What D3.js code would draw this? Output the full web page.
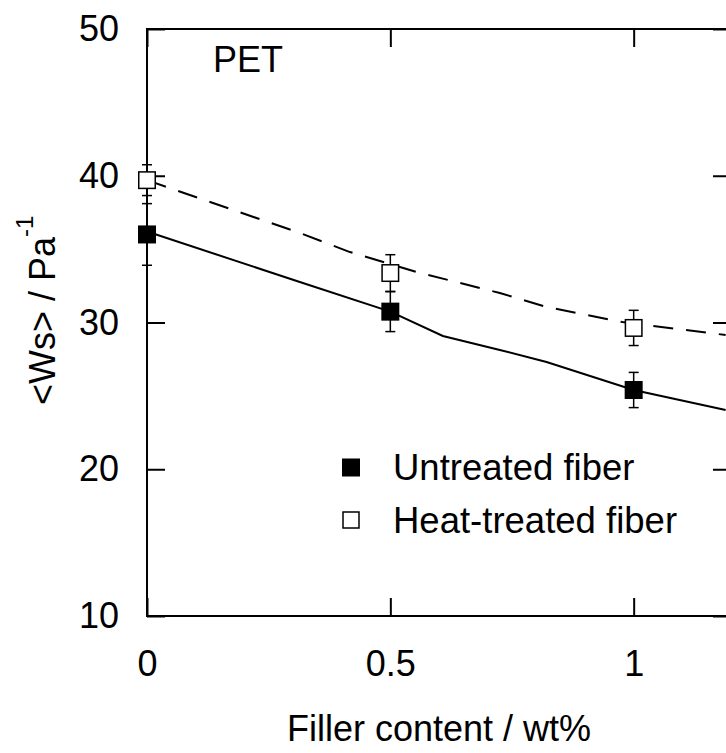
<!DOCTYPE html>
<html>
<head>
<meta charset="utf-8">
<script src="https://cdn.jsdelivr.net/npm/d3@7"></script>
<style>
  body { margin: 0; background: #fff; }
  svg { display: block; font-family: "Liberation Sans", Arial, sans-serif; }
</style>
</head>
<body>
<script>
// Ws vs filler content, PET

const width = 726, height = 753;
const margin = {top: 29, left: 147, right: 731, bottom: 616}; // plot frame (right side runs off the page)

// measured points
const filler = [0, 0.5, 1];
const untreated = [36.0, 30.74, 25.4];
const untreatedErr = [2.1, 1.36, 1.2];
const heatTreated = [39.7, 33.37, 29.63];
const heatTreatedErr = [1.05, 1.25, 1.2];

// fitted curves
const fitX = [0, 0.314, 0.5, 0.608, 0.725, 0.821, 1.0, 1.189];
const fitUntreated = [36.2, 32.76, 30.74, 29.08, 28.13, 27.31, 25.40, 24.04];
const fitHeatX = [0, 0.314, 0.417, 0.554, 0.725, 0.821, 0.977, 1.189];
const fitHeat = [39.7, 36.1, 34.8, 33.44, 32.01, 31.06, 30.03, 29.15];

const xTicks = [0, 0.5, 1];
const yTicks = [10, 20, 30, 40, 50];

const svg = d3.select("body").append("svg")
    .attr("width", width)
    .attr("height", height);

const x = d3.scaleLinear().domain([0, 1.2]).range([margin.left, margin.right]);
const y = d3.scaleLinear().domain([10, 50]).range([margin.bottom, margin.top]);

const tickLen = 18;
const fontSize = 36;
const fontFam = "Liberation Sans, Arial, sans-serif";

// frame
svg.append("rect")
    .attr("x", x(0)).attr("y", y(50))
    .attr("width", x(1.2) - x(0)).attr("height", y(10) - y(50))
    .attr("fill", "none").attr("stroke", "#000").attr("stroke-width", 2);

// axes, ticks pointing inward
svg.append("g")
    .attr("transform", "translate(0," + y(10) + ")")
    .call(d3.axisBottom(x).tickValues(xTicks).tickSize(-tickLen).tickFormat(d3.format("")))
    .call(g => g.select(".domain").remove())
    .call(g => g.selectAll("line").attr("stroke-width", 2))
    .call(g => g.selectAll("text").attr("y", 34).attr("font-size", fontSize).attr("font-family", fontFam));

svg.append("g")
    .attr("transform", "translate(0," + y(50) + ")")
    .call(d3.axisTop(x).tickValues(xTicks).tickSize(-tickLen).tickFormat(""))
    .call(g => g.select(".domain").remove())
    .call(g => g.selectAll("line").attr("stroke-width", 2));

svg.append("g")
    .attr("transform", "translate(" + x(0) + ",0)")
    .call(d3.axisLeft(y).tickValues(yTicks).tickSize(-tickLen))
    .call(g => g.select(".domain").remove())
    .call(g => g.selectAll("line").attr("stroke-width", 2))
    .call(g => g.selectAll("text").attr("x", -28).attr("font-size", fontSize).attr("font-family", fontFam));

svg.append("g")
    .attr("transform", "translate(" + x(1.2) + ",0)")
    .call(d3.axisRight(y).tickValues(yTicks).tickSize(-tickLen).tickFormat(""))
    .call(g => g.select(".domain").remove())
    .call(g => g.selectAll("line").attr("stroke-width", 2));

// fitted lines
const line = d3.line().x(d => x(d[0])).y(d => y(d[1]));

svg.append("path")
    .datum(d3.zip(fitHeatX, fitHeat))
    .attr("d", line)
    .attr("fill", "none").attr("stroke", "#000").attr("stroke-width", 2)
    .attr("stroke-dasharray", "20,13");

svg.append("path")
    .datum(d3.zip(fitX, fitUntreated))
    .attr("d", line)
    .attr("fill", "none").attr("stroke", "#000").attr("stroke-width", 2);

// error bars + markers
function drawSeries(vals, errs, filled) {
    const pts = filler.map((f, i) => ({x: f, y: vals[i], e: errs[i]}));
    const g = svg.append("g");
    const cap = 5;
    pts.forEach(d => {
        g.append("line")
            .attr("x1", x(d.x)).attr("x2", x(d.x))
            .attr("y1", y(d.y + d.e)).attr("y2", y(d.y - d.e))
            .attr("stroke", "#000").attr("stroke-width", 1.5);
        [d.y + d.e, d.y - d.e].forEach(v => {
            g.append("line")
                .attr("x1", x(d.x) - cap).attr("x2", x(d.x) + cap)
                .attr("y1", y(v)).attr("y2", y(v))
                .attr("stroke", "#000").attr("stroke-width", 1.5);
        });
    });
    const s = filled ? 18 : 16.5;
    g.selectAll("rect").data(pts).enter().append("rect")
        .attr("x", d => x(d.x) - s / 2)
        .attr("y", d => y(d.y) - s / 2)
        .attr("width", s).attr("height", s)
        .attr("fill", filled ? "#000" : "#fff")
        .attr("stroke", filled ? "none" : "#000").attr("stroke-width", 1.5);
}
drawSeries(untreated, untreatedErr, true);
drawSeries(heatTreated, heatTreatedErr, false);

// PET label
svg.append("text")
    .attr("x", 213).attr("y", 72)
    .attr("font-size", fontSize)
    .text("PET");

// legend
const legend = [
    {label: "Untreated fiber", filled: true},
    {label: "Heat-treated fiber", filled: false}
];
legend.forEach((d, i) => {
    const cy = 467.5 + i * 52.5;
    const s = d.filled ? 18 : 16;
    svg.append("rect")
        .attr("x", 351 - s / 2).attr("y", cy - s / 2)
        .attr("width", s).attr("height", s)
        .attr("fill", d.filled ? "#000" : "#fff")
        .attr("stroke", d.filled ? "none" : "#000").attr("stroke-width", 1.5);
    svg.append("text")
        .attr("x", 393).attr("y", 480 + i * 53)
        .attr("font-size", 36.5)
        .text(d.label);
});

// axis titles
svg.append("text")
    .attr("x", (x(0) + x(1.2)) / 2).attr("y", 741)
    .attr("text-anchor", "middle")
    .attr("font-size", fontSize)
    .text("Filler content / wt%");

const yt = svg.append("text")
    .attr("transform", "translate(55,405) rotate(-90)")
    .attr("font-size", fontSize);
yt.append("tspan").text("<Ws> / Pa");
yt.append("tspan").attr("dy", -22).attr("font-size", 24).text("-1");
</script>
</body>
</html>
